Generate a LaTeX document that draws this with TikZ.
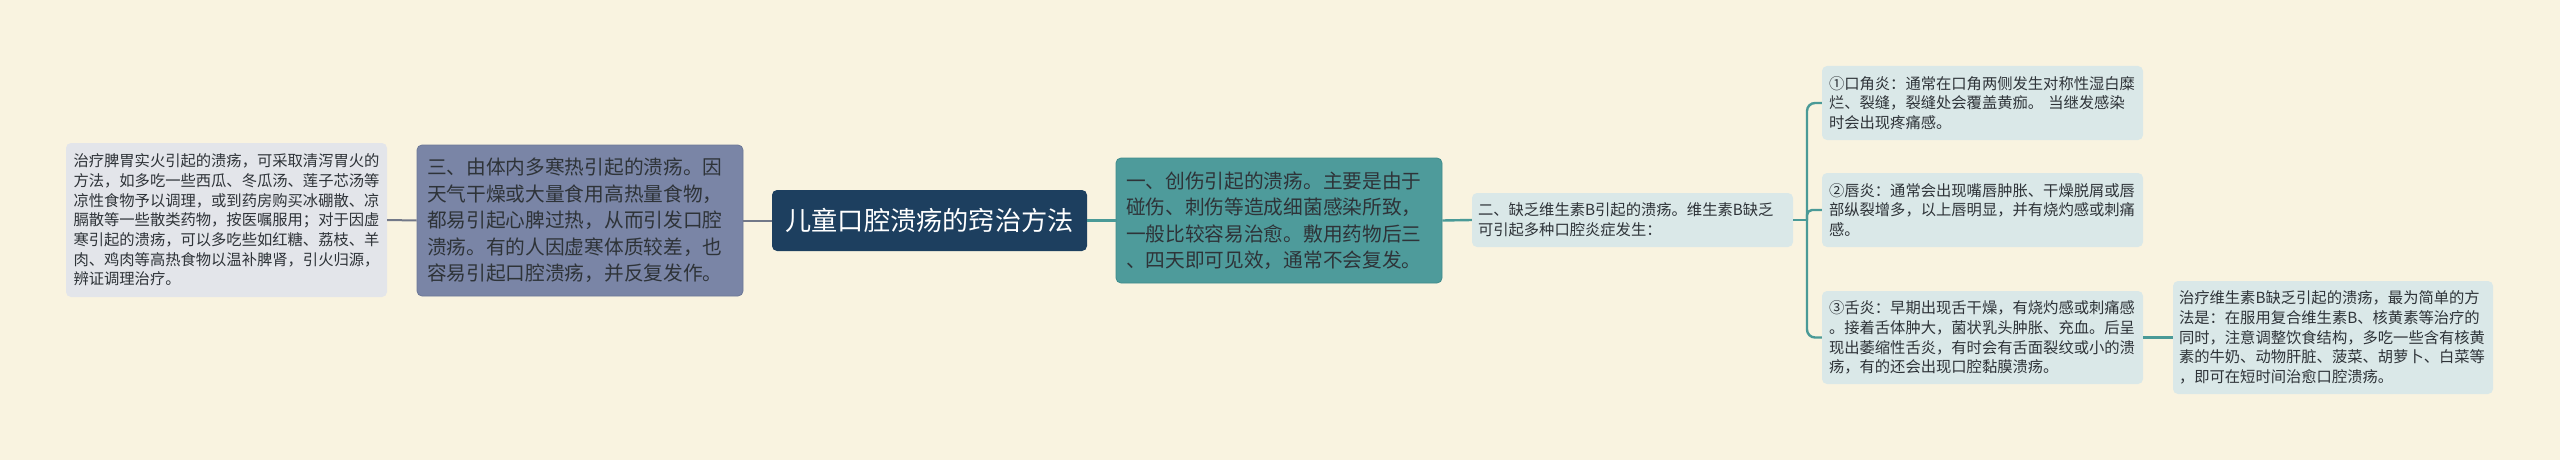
\documentclass[tikz,border=0pt]{standalone}
\usepackage{fontspec}
\setmainfont{Noto Sans CJK SC}
\definecolor{bg}{HTML}{F9F3E0}
\definecolor{leafgray}{HTML}{E3E5EA}
\definecolor{slate}{HTML}{7A85A6}
\definecolor{slateb}{HTML}{6C7797}
\definecolor{navy}{HTML}{1D3F5F}
\definecolor{teal}{HTML}{4E9B9B}
\definecolor{tealb}{HTML}{3F8C8C}
\definecolor{lightb}{HTML}{DAE8E8}
\definecolor{lcol}{HTML}{727888}
\definecolor{rcol}{HTML}{4A9A97}
\definecolor{txt}{HTML}{2E3338}
\begin{document}
\begin{tikzpicture}[x=1pt,y=-1pt,
  every node/.style={inner ysep=0pt},
  smallfont/.style={font=\fontsize{15.3}{19.7}\selectfont},
  bigfont/.style={font=\fontsize{19.7}{26.5}\selectfont},
  leafbox/.style={rectangle, rounded corners=5pt, align=left, text=txt, smallfont},
  lline/.style={draw=lcol, line width=2pt},
  rline/.style={draw=rcol, line width=2.4pt}]
\path[fill=bg, use as bounding box] (0,0) rectangle (2560,460);

\node[leafbox, fill=leafgray, inner xsep=7.5pt, text width=306pt, minimum height=154pt] (L) at (226.5,220) {%
治疗脾胃实火引起的溃疡，可采取清泻胃火的\\
方法，如多吃一些西瓜、冬瓜汤、莲子芯汤等\\
凉性食物予以调理，或到药房购买冰硼散、凉\\
膈散等一些散类药物，按医嘱服用；对于因虚\\
寒引起的溃疡，可以多吃些如红糖、荔枝、羊\\
肉、鸡肉等高热食物以温补脾肾，引火归源，\\
辨证调理治疗。};

\node[rectangle, rounded corners=5pt, fill=slate, draw=slateb, line width=0.8pt, align=left, text=txt, bigfont, inner xsep=10pt, text width=306pt, minimum height=151pt] (B3) at (580,220.5) {%
三、由体内多寒热引起的溃疡。因\\
天气干燥或大量食用高热量食物，\\
都易引起心脾过热，从而引发口腔\\
溃疡。有的人因虚寒体质较差，也\\
容易引起口腔溃疡，并反复发作。};

\node[rectangle, rounded corners=5pt, fill=navy, text=white, font=\fontsize{26.2}{30}\selectfont, inner xsep=0pt, minimum width=315pt, minimum height=61pt] (C) at (929.5,220.5) {儿童口腔溃疡的窍治方法};

\node[rectangle, rounded corners=5pt, fill=teal, draw=tealb, line width=0.8pt, align=left, text=txt, bigfont, inner xsep=10pt, text width=306pt, minimum height=125pt] (B1) at (1279,220.5) {%
一、创伤引起的溃疡。主要是由于\\
碰伤、刺伤等造成细菌感染所致，\\
一般比较容易治愈。敷用药物后三\\
、四天即可见效，通常不会复发。};

\node[leafbox, fill=lightb, inner xsep=6pt, text width=309pt, minimum height=54pt] (B2) at (1632.5,220) {%
二、缺乏维生素B引起的溃疡。维生素B缺乏\\
可引起多种口腔炎症发生：};

\node[leafbox, fill=lightb, inner xsep=7pt, text width=307pt, minimum height=74pt] (S1) at (1982.5,103) {%
①口角炎：通常在口角两侧发生对称性湿白糜\\
烂、裂缝，裂缝处会覆盖黄痂。 当继发感染\\
时会出现疼痛感。};

\node[leafbox, fill=lightb, inner xsep=7pt, text width=307pt, minimum height=74pt] (S2) at (1982.5,210) {%
②唇炎：通常会出现嘴唇肿胀、干燥脱屑或唇\\
部纵裂增多，以上唇明显，并有烧灼感或刺痛\\
感。};

\node[leafbox, fill=lightb, inner xsep=7pt, text width=307pt, minimum height=93pt] (S3) at (1982.5,337.5) {%
③舌炎：早期出现舌干燥，有烧灼感或刺痛感\\
。接着舌体肿大，菌状乳头肿胀、充血。后呈\\
现出萎缩性舌炎，有时会有舌面裂纹或小的溃\\
疡，有的还会出现口腔黏膜溃疡。};

\node[leafbox, fill=lightb, inner xsep=6pt, text width=308pt, minimum height=113pt] (T) at (2333,337.5) {%
治疗维生素B缺乏引起的溃疡，最为简单的方\\
法是：在服用复合维生素B、核黄素等治疗的\\
同时，注意调整饮食结构，多吃一些含有核黄\\
素的牛奶、动物肝脏、菠菜、胡萝卜、白菜等\\
，即可在短时间治愈口腔溃疡。};

\coordinate (sp) at (1807,220);
\draw[lline] (L.east) -- (B3.west);
\draw[lline] (B3.east) -- (C.west);
\draw[rline] (C.east) -- (B1.west);
\draw[rline] (B1.east) -- (B2.west);
\draw[rline] (B2.east) -- (sp);
\draw[rline, rounded corners=8pt] (sp) |- (S1.west);
\draw[rline, rounded corners=5pt] (sp) |- (S2.west);
\draw[rline, rounded corners=8pt] (sp) |- (S3.west);
\draw[rline] (S3.east) -- (T.west);
\end{tikzpicture}
\end{document}
